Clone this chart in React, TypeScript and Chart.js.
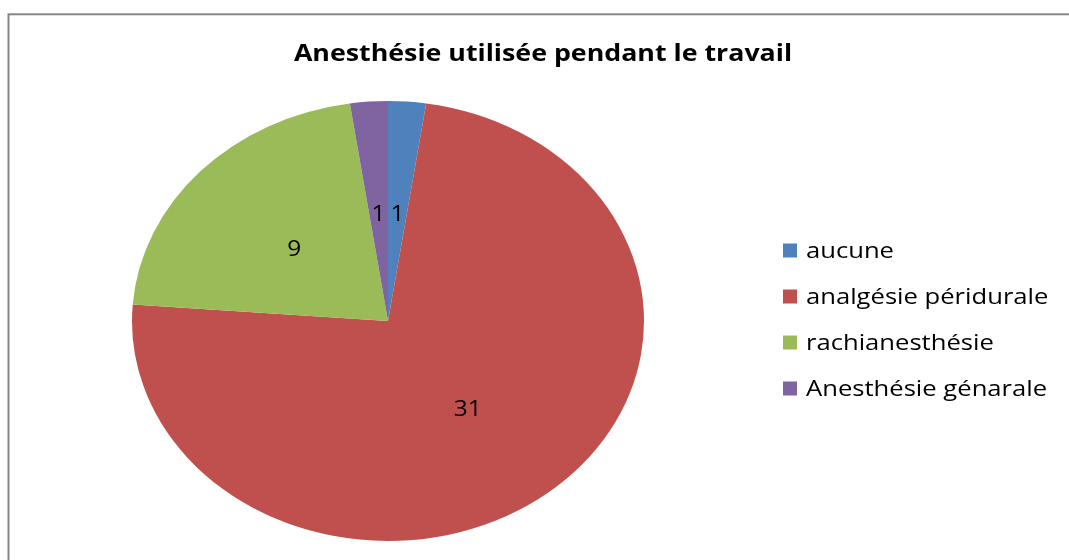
import React, { useEffect, useRef } from "react";
import { Chart, registerables } from "chart.js";

Chart.register(...registerables);

const categories = ["aucune", "analgésie péridurale", "rachianesthésie", "Anesthésie génarale"];
const counts = [1, 31, 9, 1];
const sliceColors = ["#4F81BD", "#C0504D", "#9BBB59", "#8064A2"];
const chartTitle = "Anesthésie utilisée pendant le travail";

const SX = 256 / 220; // horizontal stretch of the picture
const FONT = '"Open Sans", "Noto Sans", sans-serif';

function stretchedText(
  ctx: CanvasRenderingContext2D,
  text: string,
  x: number,
  y: number,
  align: CanvasTextAlign,
  baseline: CanvasTextBaseline
) {
  ctx.save();
  ctx.translate(x, y);
  ctx.scale(SX, 1);
  ctx.textAlign = align;
  ctx.textBaseline = baseline;
  ctx.fillText(text, 0, 0);
  ctx.restore();
}

const framePlugin = {
  id: "frame",
  beforeDraw(chart: any) {
    const ctx = chart.ctx as CanvasRenderingContext2D;
    ctx.save();
    ctx.fillStyle = "#ffffff";
    ctx.fillRect(0, 0, chart.width, chart.height);
    ctx.strokeStyle = "#868686";
    ctx.lineWidth = 2;
    ctx.strokeRect(8.5, 14.3, chart.width + 20, chart.height + 20);
    ctx.restore();
  },
};

const stretchPlugin = {
  id: "stretch",
  beforeDatasetsDraw(chart: any) {
    const meta = chart.getDatasetMeta(0);
    const arc = meta.data[0];
    const ctx = chart.ctx as CanvasRenderingContext2D;
    ctx.save();
    ctx.translate(arc.x, arc.y);
    ctx.scale(SX, 1);
    ctx.translate(-arc.x, -arc.y);
  },
  afterDatasetsDraw(chart: any) {
    chart.ctx.restore();
  },
};

const decorPlugin = {
  id: "decor",
  afterDraw(chart: any) {
    const ctx = chart.ctx as CanvasRenderingContext2D;
    // title
    ctx.save();
    ctx.fillStyle = "#000000";
    ctx.font = `bold 23px ${FONT}`;
    stretchedText(ctx, chartTitle, 543, 61, "center", "alphabetic");
    ctx.restore();

    // data labels
    const meta = chart.getDatasetMeta(0);
    const ds = chart.data.datasets[0];
    ctx.save();
    ctx.fillStyle = "#000000";
    ctx.font = `21px ${FONT}`;
    meta.data.forEach((arc: any, i: number) => {
      const p = arc.tooltipPosition();
      const x = arc.x + (p.x - arc.x) * SX;
      stretchedText(ctx, String(ds.data[i]), x, p.y + 3.5, "center", "middle");
    });
    ctx.restore();

    // legend
    ctx.save();
    ctx.font = `22px ${FONT}`;
    const labels: string[] = chart.data.labels;
    labels.forEach((lab, i) => {
      const base = 258 + i * 46;
      ctx.fillStyle = ds.backgroundColor[i];
      ctx.fillRect(783, base - 14.5, 14, 14);
      ctx.fillStyle = "#000000";
      stretchedText(ctx, lab, 806, base, "left", "alphabetic");
    });
    ctx.restore();
  },
};

export default function App() {
  const ref = useRef<HTMLCanvasElement | null>(null);
  useEffect(() => {
    if (!ref.current) return;
    const chart = new Chart(ref.current, {
      type: "pie",
      data: {
        labels: categories,
        datasets: [
          {
            data: counts,
            backgroundColor: sliceColors,
            borderWidth: 0,
          },
        ],
      },
      options: {
        responsive: false,
        animation: false,
        devicePixelRatio: 1,
        layout: { padding: { left: 168, right: 461, top: 101, bottom: 19 } },
        plugins: {
          legend: { display: false },
          title: { display: false },
          tooltip: { enabled: false },
        },
      },
      plugins: [framePlugin, stretchPlugin, decorPlugin],
    });
    return () => chart.destroy();
  }, []);
  return (
    <div style={{ position: "fixed", left: 0, top: 0, width: 1069, height: 560 }}>
      <canvas ref={ref} width={1069} height={560} style={{ width: 1069, height: 560, display: "block" }} />
    </div>
  );
}
